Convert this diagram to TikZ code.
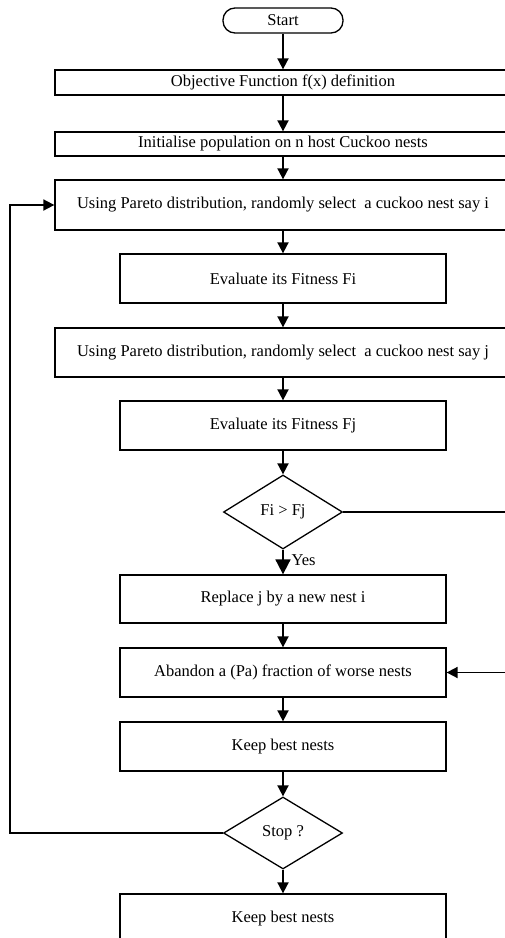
\documentclass[tikz,border=0pt]{standalone}
\usepackage{fontspec}
\setmainfont{Liberation Serif}
\usetikzlibrary{shapes.geometric,arrows.meta}
\begin{document}
\begin{tikzpicture}[x=1pt,y=-1pt,
  font=\fontsize{16.5}{19}\selectfont,
  every node/.style={line width=1.3pt},
  box/.style={draw,rectangle,inner sep=0pt,align=center},
  wide/.style={box,minimum width=456pt},
  mid/.style={box,minimum width=326pt,minimum height=49pt},
  term/.style={draw,rectangle,rounded corners=12pt,minimum width=120pt,minimum height=25pt,inner sep=0pt},
  dec/.style={draw,diamond,inner sep=0pt,shape aspect=1.6,minimum width=119pt,minimum height=74pt},
  arr/.style={line width=1.8pt,-{Triangle[length=11pt,width=11pt]}},
  bigarr/.style={line width=1.8pt,-{Triangle[length=15pt,width=15pt]}}]
\useasboundingbox (0,0) rectangle (505,938);
\clip (0,0) rectangle (505,938);
\fill[white] (0,0) rectangle (505,938);
\node[term] (start) at (283,20.5) {Start};
\node[wide,minimum height=25pt] (obj) at (283,82.5) {Objective Function f(x) definition};
\node[wide,minimum height=24pt] (init) at (283,144) {Initialise population on n host Cuckoo nests};
\node[wide,minimum height=50pt] (seli) at (283,205) {Using Pareto distribution, randomly select~ a cuckoo nest say i};
\node[mid] (fiti) at (283,278.5) {Evaluate its Fitness Fi};
\node[wide,minimum height=49pt] (selj) at (283,352.5) {Using Pareto distribution, randomly select~ a cuckoo nest say j};
\node[mid] (fitj) at (283,425.5) {Evaluate its Fitness Fj};
\node[dec] (cmp) at (283,512) {Fi > Fj};
\node[mid,minimum height=48pt] (repl) at (283,599) {Replace j by a new nest i};
\node[mid] (aban) at (283,672.5) {Abandon a (Pa) fraction of worse nests};
\node[mid] (keep1) at (283,746.5) {Keep best nests};
\node[dec,minimum height=72pt] (stop) at (283,833) {Stop ?};
\node[mid] (keep2) at (283,918.5) {Keep best nests};
\coordinate (r1) at (525,512);
\coordinate (r2) at (525,672.5);
\coordinate (l1) at (10,833);
\coordinate (l2) at (10,205);
\draw[arr] (start) -- (obj);
\draw[arr] (obj) -- (init);
\draw[arr] (init) -- (seli);
\draw[arr] (seli) -- (fiti);
\draw[arr] (fiti) -- (selj);
\draw[arr] (selj) -- (fitj);
\draw[arr] (fitj) -- (cmp);
\draw[bigarr] (cmp) -- (repl);
\node[anchor=west,inner sep=0pt] (yes) at (291,560) {Yes};
\draw[arr] (repl) -- (aban);
\draw[arr] (aban) -- (keep1);
\draw[arr] (keep1) -- (stop);
\draw[arr] (stop) -- (keep2);
\draw[arr] (cmp.east) -- (r1) -- (r2) -- (aban.east);
\draw[arr] (stop.west) -- (l1) -- (l2) -- (seli.west);
\end{tikzpicture}
\end{document}
